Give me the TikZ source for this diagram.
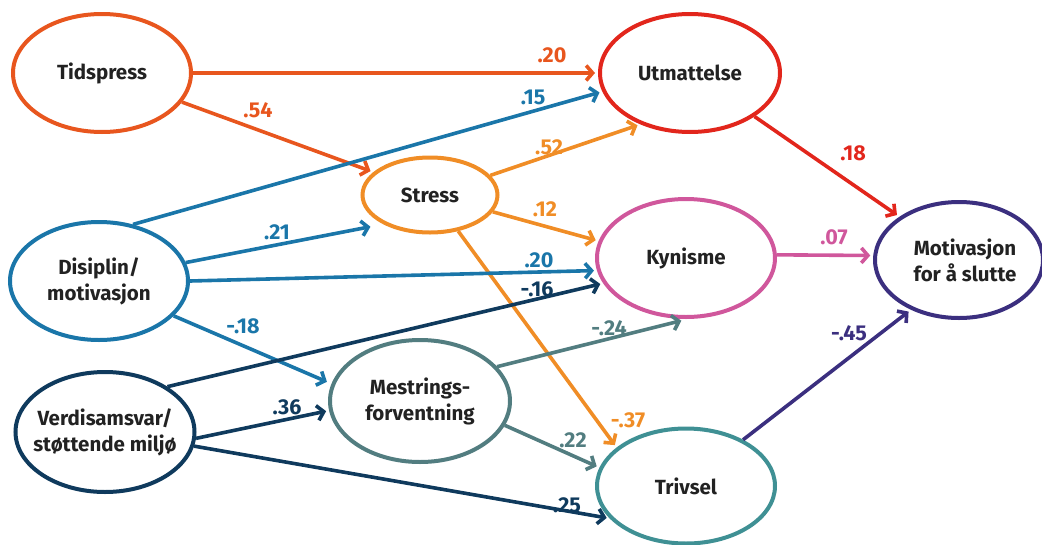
\documentclass[tikz,border=0pt]{standalone}
\usepackage{fontspec}
\setmainfont{Fira Sans}
\usetikzlibrary{arrows.meta,shapes.geometric}
\definecolor{cT}{HTML}{E8561E}
\definecolor{cU}{HTML}{E2261C}
\definecolor{cS}{HTML}{F08D26}
\definecolor{cD}{HTML}{1A76A9}
\definecolor{cK}{HTML}{D0579C}
\definecolor{cM}{HTML}{3B2F7F}
\definecolor{cV}{HTML}{0F3A5D}
\definecolor{cMe}{HTML}{527D80}
\definecolor{cTr}{HTML}{3F9094}
\definecolor{ink}{HTML}{222222}
\begin{document}
\begin{tikzpicture}[x=1pt,y=-1pt,
  box/.style={ellipse, draw, line width=4pt, fill=white, minimum width=178pt,
    minimum height=118pt, inner xsep=-25pt, inner ysep=-10pt, align=center,
    font=\fontsize{20.5}{26}\selectfont\bfseries, text=ink},
  link/.style={line width=3.6pt, -{Straight Barb[length=6.5pt,width=15pt]}, shorten >=3pt},
  val/.style={font=\fontsize{21.5}{24}\selectfont\bfseries, inner sep=0pt}]
\useasboundingbox (0,0) rectangle (1042,544);
\node[box, draw=cT] (T) at (102,73) {Tidspress};
\node[box, draw=cU, minimum width=180pt] (U) at (690,73) {Utmattelse};
\node[box, draw=cS, minimum width=135pt, minimum height=75pt] (S) at (430,195) {Stress};
\node[box, draw=cD] (D) at (99,281) {Disiplin/\\motivasjon};
\node[box, draw=cK] (K) at (686,258) {Kynisme};
\node[box, draw=cM, minimum width=168pt, minimum height=116pt] (M) at (959,260) {\hspace*{12pt}Motivasjon\\\hspace*{12pt}for å slutte};
\node[box, draw=cV, minimum width=179pt, minimum height=120pt] (V) at (105,432) {Verdisamsvar/\\støttende miljø};
\node[box, draw=cMe, minimum width=180pt, minimum height=122pt] (Me) at (420,401) {Mestrings-\\forventning};
\node[box, draw=cTr, minimum height=115pt] (Tr) at (686,486) {Trivsel};

\draw[link, cT] (T.east) -- (U.west);
\draw[link, cT] (T.-20) -- (S.158);
\draw[link, cD] (D.59) -- (U.192);
\draw[link, cS] (S.18) -- (U.226);
\draw[link, cS] (S.-15) -- (K.169);
\draw[link, cS] (S.-52) -- (Tr.151);
\draw[link, cD, shorten >=13pt] (D.12) -- (S.212);
\draw[link, cD] (D.east) -- (K.188);
\draw[link, cD, shorten >=5pt] (D.-25) -- (Me.169);
\draw[link, cV] (V.36) -- (K.197);
\draw[link, cV] (V.-4) -- (Me.186);
\draw[link, cV] (V.-9) -- (Tr.203);
\draw[link, cMe, shorten >=7pt] (Me.24) -- (K.-88);
\draw[link, cMe] (Me.-16) -- (Tr.168);
\draw[link, cU] (U.-34) -- (M.144);
\draw[link, cK] (K.2) -- (M.177);
\draw[link, cM] (Tr.39) -- (M.226);

\node[val, text=cT] (l1) at (552,55) {.20};
\node[val, text=cT] (l2) at (258,110) {.54};
\node[val, text=cD] (l3) at (533,97) {.15};
\node[val, text=cS] (l4) at (549,147) {.52};
\node[val, text=cS] (l5) at (545,209) {.12};
\node[val, text=cD] (l6) at (277,232) {.21};
\node[val, text=cD] (l7) at (539,260) {.20};
\node[val, text=cV] (l8) at (537,289) {-.16};
\node[val, text=cD] (l9) at (243,326) {-.18};
\node[val, text=cMe] (l10) at (609,328) {-.24};
\node[val, text=cV] (l11) at (287,407) {.36};
\node[val, text=cMe] (l12) at (573,440) {.22};
\node[val, text=cS] (l13) at (628,420) {-.37};
\node[val, text=cV] (l14) at (567,505) {.25};
\node[val, text=cU] (l15) at (853,153) {.18};
\node[val, text=cK] (l16) at (834,237) {.07};
\node[val, text=cM] (l17) at (849,333) {-.45};
\end{tikzpicture}
\end{document}
